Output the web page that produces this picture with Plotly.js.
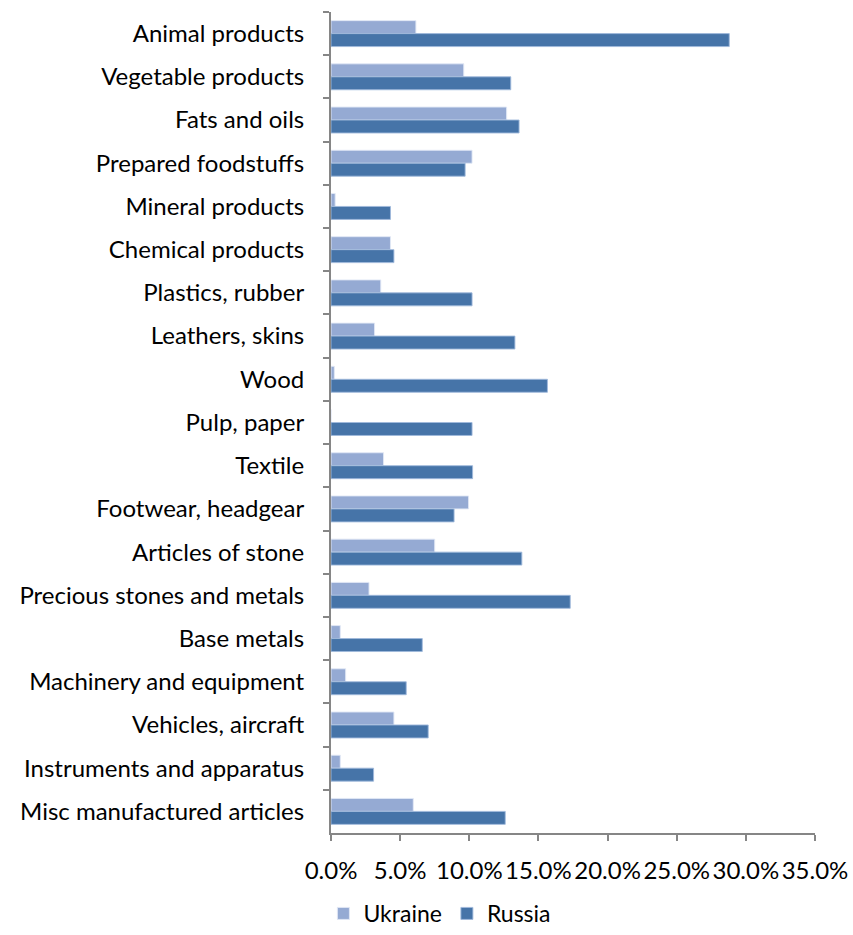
<!DOCTYPE html>
<html>
<head>
<meta charset="utf-8">
<script src="https://cdn.plot.ly/plotly-3.0.1.min.js"></script>
<style>html,body{margin:0;padding:0;background:#fff;}#chart{width:853px;height:935px;}</style>
</head>
<body>
<div id="chart"></div>
<script>
const categories = [
  "Animal products", "Vegetable products", "Fats and oils", "Prepared foodstuffs",
  "Mineral products", "Chemical products", "Plastics, rubber", "Leathers, skins",
  "Wood", "Pulp, paper", "Textile", "Footwear, headgear", "Articles of stone",
  "Precious stones and metals", "Base metals", "Machinery and equipment",
  "Vehicles, aircraft", "Instruments and apparatus", "Misc manufactured articles"
];
const ukraine = [0.0614, 0.096, 0.127, 0.102, 0.003, 0.043, 0.036, 0.0315, 0.0024, 0.0,
  0.038, 0.0995, 0.075, 0.0275, 0.0067, 0.0106, 0.0455, 0.0067, 0.0595];
const russia = [0.288, 0.130, 0.136, 0.097, 0.043, 0.0455, 0.102, 0.133, 0.1565, 0.102,
  0.1024, 0.089, 0.138, 0.173, 0.066, 0.0544, 0.0703, 0.0308, 0.126];
const seriesNames = ["Ukraine", "Russia"];
const xTicks = [0, 0.05, 0.10, 0.15, 0.20, 0.25, 0.30, 0.35];

const font = "Lato, 'Open Sans', sans-serif";
const traces = [
  {type: "bar", orientation: "h", name: seriesNames[0], y: categories, x: ukraine,
   marker: {color: "#95AAD3", line: {color: "rgba(225,232,245,0.9)", width: 1}}, hoverinfo: "x+y"},
  {type: "bar", orientation: "h", name: seriesNames[1], y: categories, x: russia,
   marker: {color: "#4674A8", line: {color: "rgba(160,185,220,0.9)", width: 1}}, hoverinfo: "x+y"}
];
const layout = {
  width: 853, height: 935,
  margin: {l: 331, r: 38, t: 12, b: 102, autoexpand: false},
  paper_bgcolor: "#fff", plot_bgcolor: "#fff",
  font: {family: font, size: 24, color: "#000"},
  barmode: "group", bargap: 0.4, bargroupgap: 0,
  showlegend: true,
  legend: {orientation: "h", x: 0.225, xanchor: "center", y: -0.1242, yanchor: "bottom",
           font: {family: font, size: 23, color: "#000"}, traceorder: "normal"},
  xaxis: {range: [0, 0.35], tickvals: xTicks, tickformat: ".1%", showgrid: false, zeroline: false,
          showline: true, linecolor: "#868686", linewidth: 2, ticks: "outside", ticklen: 6,
          tickcolor: "#868686", tickwidth: 2, ticklabelstandoff: 9, fixedrange: true, automargin: false},
  yaxis: {type: "category", autorange: "reversed", showgrid: false, zeroline: false,
          showline: true, linecolor: "#868686", linewidth: 2, ticks: "outside", ticklen: 6,
          tickcolor: "#868686", tickwidth: 2, tickson: "boundaries", ticklabelstandoff: 20,
          fixedrange: true, automargin: false}
};
Plotly.newPlot("chart", traces, layout, {displayModeBar: false, staticPlot: true});
</script>
</body>
</html>
